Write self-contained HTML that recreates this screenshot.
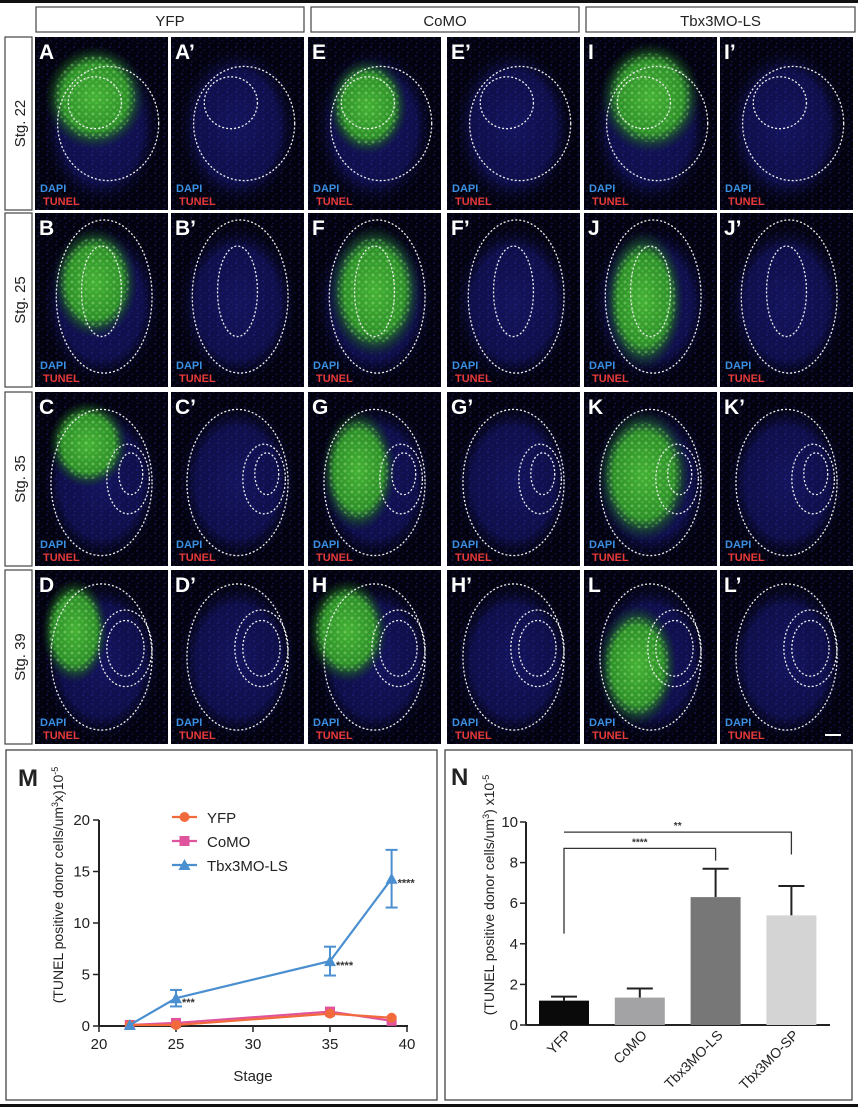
<!DOCTYPE html>
<html><head><meta charset="utf-8"><style>
body{margin:0;background:#fff;width:858px;height:1107px;overflow:hidden;font-family:"Liberation Sans",Arial,sans-serif}
svg{position:absolute;left:0;top:0}
</style></head><body>
<svg id="fig" width="858" height="1107" viewBox="0 0 858 1107">
<defs>
<pattern id="dots" width="9" height="9" patternUnits="userSpaceOnUse">
<circle cx="2" cy="2" r="1" fill="#3b3bd0"/><circle cx="6.5" cy="5" r="0.9" fill="#2c2cb0"/><circle cx="3" cy="7.5" r="0.8" fill="#4545e0"/>
</pattern>
<pattern id="gdots" width="7" height="7" patternUnits="userSpaceOnUse">
<circle cx="2" cy="2" r="1.5" fill="#9bf08a"/><circle cx="5.5" cy="5" r="1.3" fill="#5fd650"/>
</pattern>
<radialGradient id="tis"><stop offset="0" stop-color="#14145c"/><stop offset="0.7" stop-color="#0f0f4a"/><stop offset="1" stop-color="#05051a" stop-opacity="0"/></radialGradient>
<radialGradient id="grn"><stop offset="0" stop-color="#45b035"/><stop offset="0.65" stop-color="#2f8f2a"/><stop offset="1" stop-color="#123a18" stop-opacity="0"/></radialGradient>
</defs>
<rect x="0" y="0" width="858" height="3" fill="#111"/>
<rect x="0" y="1104" width="858" height="3" fill="#111"/>
<g id="panels"></g>
<g id="chartM"></g>
<g id="chartN"></g>
</svg>
<script>
const NS="http://www.w3.org/2000/svg";
function mk(parent,tag,attrs,text){const e=document.createElementNS(NS,tag);for(const k in attrs)e.setAttribute(k,attrs[k]);if(text!==undefined)e.textContent=text;parent.appendChild(e);return e;}

// ---------- microscopy panels ----------
const P=document.getElementById('panels');
const defs=document.querySelector('defs');
const headers=[["YFP",36,304],["CoMO",311,579],["Tbx3MO-LS",586,855]];
headers.forEach(h=>{
  const g=mk(P,'g',{});
  
  
  mk(g,'rect',{x:h[1],y:7,width:h[2]-h[1],height:25,fill:'#fff',stroke:'#444','stroke-width':1.2});
  mk(g,'text',{x:(h[1]+h[2])/2,y:26,'text-anchor':'middle','font-size':15,fill:'#222'},h[0]);
});
const rowsY=[[37,210],[213,387],[392,566],[570,744]];
const stg=["Stg. 22","Stg. 25","Stg. 35","Stg. 39"];
rowsY.forEach((r,i)=>{
  const g=mk(P,'g',{});
  
  
  mk(g,'rect',{x:5,y:r[0],width:27,height:r[1]-r[0],fill:'#fff',stroke:'#444','stroke-width':1.2});
  const cy=(r[0]+r[1])/2;
  mk(g,'text',{x:0,y:0,transform:`translate(25,${cy}) rotate(-90)`,'text-anchor':'middle','font-size':15,fill:'#222'},stg[i]);
});
const colsX=[35,171,308,447,584,720];
const letters=[["A","A’","E","E’","I","I’"],["B","B’","F","F’","J","J’"],["C","C’","G","G’","K","K’"],["D","D’","H","H’","L","L’"]];
const outl=[
 [[.55,.5,.38,.33],[.45,.38,.2,.15]],
 [[.52,.48,.36,.44],[.5,.45,.15,.26]],
 [[.5,.52,.38,.42],[.7,.5,.16,.2],[.72,.47,.09,.12]],
 [[.5,.5,.38,.42],[.68,.45,.2,.22],[.68,.45,.14,.16]]
];
const green=[
 [[.45,.35,.38,.3],[.45,.4,.3,.28],[.5,.35,.38,.32]],
 [[.45,.4,.32,.32],[.5,.45,.35,.38],[.45,.5,.3,.4]],
 [[.4,.3,.3,.25],[.38,.45,.28,.35],[.45,.48,.35,.38]],
 [[.3,.35,.25,.3],[.3,.35,.3,.3],[.4,.55,.3,.35]]
];
let cid=0;
rowsY.forEach((r,ri)=>{
  const h=r[1]-r[0];
  colsX.forEach((x,ci)=>{
    const w=133;
    const cp=mk(defs,'clipPath',{id:'cp'+cid});
    mk(cp,'rect',{x:x,y:r[0],width:w,height:h});
    const g=mk(P,'g',{'clip-path':'url(#cp'+cid+')'});
    cid++;
    
    
    mk(g,'rect',{x:x,y:r[0],width:w,height:h,fill:'#03030f'});
    mk(g,'ellipse',{cx:x+w*.5,cy:r[0]+h*.52,rx:w*.45,ry:h*.46,fill:'url(#tis)'});
    mk(g,'rect',{x:x,y:r[0],width:w,height:h,fill:'url(#dots)',opacity:.3});
    if(ci%2===0){
      const gr=green[ri][ci/2];
      mk(g,'ellipse',{cx:x+w*gr[0],cy:r[0]+h*gr[1],rx:w*gr[2],ry:h*gr[3],fill:'url(#grn)'});
      mk(g,'ellipse',{cx:x+w*gr[0],cy:r[0]+h*gr[1],rx:w*gr[2]*.8,ry:h*gr[3]*.8,fill:'url(#gdots)',opacity:.4});
    }
    outl[ri].forEach(o=>mk(g,'ellipse',{cx:x+w*o[0],cy:r[0]+h*o[1],rx:w*o[2],ry:h*o[3],fill:'none',stroke:'#eee','stroke-width':1.3,'stroke-dasharray':'2 2'}));
    mk(g,'text',{x:x+4,y:r[0]+22,'font-size':21,'font-weight':'bold',fill:'#fff'},letters[ri][ci]);
    mk(g,'text',{x:x+5,y:r[1]-18,'font-size':11,'font-weight':'bold',fill:'#3a8fe0'},'DAPI');
    mk(g,'text',{x:x+8,y:r[1]-5,'font-size':11,'font-weight':'bold',fill:'#e83a3a'},'TUNEL');
  });
});
mk(P,'rect',{x:825,y:734,width:16,height:2,fill:'#fff'});

// ---------- Chart M ----------
const mStages=[22,25,35,39];
const mYFP=[0.1,0.1,1.2,0.8];
const mCoMO=[0.1,0.3,1.4,0.5];
const mTbx=[0.1,2.7,6.3,14.3];
const mTbxErr=[0,0.8,1.4,2.8];
const mTbxSig=["","***","****","****"];
const mXTicks=[20,25,30,35,40];
const mYTicks=[0,5,10,15,20];
const M=document.getElementById('chartM');
const mx=s=>99+(s-20)*308/20, my=v=>1026-v*10.3;
mk(M,'rect',{x:6,y:750,width:431,height:350,fill:'#fff',stroke:'#444','stroke-width':1.3});
mk(M,'text',{x:18,y:786,'font-size':24,'font-weight':'bold',fill:'#222'},'M');
mk(M,'line',{x1:99,y1:my(20),x2:99,y2:1026,stroke:'#222','stroke-width':2});
mk(M,'line',{x1:99,y1:1026,x2:408,y2:1026,stroke:'#222','stroke-width':2});
mYTicks.forEach(t=>{mk(M,'line',{x1:93,y1:my(t),x2:99,y2:my(t),stroke:'#222','stroke-width':1.5});mk(M,'text',{x:90,y:my(t)+5,'text-anchor':'end','font-size':15,fill:'#222'},t);});
mXTicks.forEach(t=>{mk(M,'line',{x1:mx(t),y1:1026,x2:mx(t),y2:1032,stroke:'#222','stroke-width':1.5});mk(M,'text',{x:mx(t),y:1049,'text-anchor':'middle','font-size':15,fill:'#222'},t);});
mk(M,'text',{x:253,y:1081,'text-anchor':'middle','font-size':15,fill:'#222'},'Stage');
const mt=mk(M,'text',{transform:'translate(63,885) rotate(-90)','text-anchor':'middle','font-size':14,fill:'#222'});
mt.innerHTML='(TUNEL positive donor cells/um<tspan dy="-5" font-size="9">3</tspan><tspan dy="5">x)10</tspan><tspan dy="-5" font-size="9">-5</tspan>';
function marker(g,x,y,col,shape){
  if(shape==='c')mk(g,'circle',{cx:x,cy:y,r:5,fill:col});
  else if(shape==='s')mk(g,'rect',{x:x-5,y:y-5,width:10,height:10,fill:col});
  else mk(g,'polygon',{points:`${x},${y-6} ${x-6},${y+5} ${x+6},${y+5}`,fill:col});
}
function series(vals,col,shape,name){
  const g=mk(M,'g',{});
  
  
  mk(g,'polyline',{points:mStages.map((s,i)=>mx(s)+','+my(vals[i])).join(' '),fill:'none',stroke:col,'stroke-width':2.2});
  mStages.forEach((s,i)=>marker(g,mx(s),my(vals[i]),col,shape));
}
series(mCoMO,'#e0549e','s','como');
series(mYFP,'#f26a3c','c','yfp');
series(mTbx,'#4a8fd0','t','tbx3mo-ls');
mStages.forEach((s,i)=>{
  if(!mTbxErr[i])return;
  const x=mx(s);
  mk(M,'line',{x1:x,y1:my(mTbx[i]+mTbxErr[i]),x2:x,y2:my(mTbx[i]-mTbxErr[i]),stroke:'#4a8fd0','stroke-width':2});
  [1,-1].forEach(sg=>mk(M,'line',{x1:x-6,x2:x+6,y1:my(mTbx[i]+sg*mTbxErr[i]),y2:my(mTbx[i]+sg*mTbxErr[i]),stroke:'#4a8fd0','stroke-width':2}));
  mk(M,'text',{x:x+6,y:my(mTbx[i])+8,'font-size':11,'font-weight':'bold',fill:'#333'},mTbxSig[i]);
});
[["YFP",'#f26a3c','c'],["CoMO",'#e0549e','s'],["Tbx3MO-LS",'#4a8fd0','t']].forEach((l,i)=>{
  const y=817+i*24;
  const g=mk(M,'g',{});
  
  
  mk(g,'line',{x1:172,x2:197,y1:y,y2:y,stroke:l[1],'stroke-width':2.2});
  marker(g,184.5,y,l[1],l[2]);
  mk(g,'text',{x:207,y:y+6,'font-size':15,fill:'#222'},l[0]);
});

// ---------- Chart N ----------
const nCats=["YFP","CoMO","Tbx3MO-LS","Tbx3MO-SP"];
const nVals=[1.2,1.35,6.3,5.4];
const nErr=[0.2,0.45,1.4,1.45];
const nColors=["#0a0a0a","#a3a3a6","#777778","#d4d4d4"];
const nYTicks=[0,2,4,6,8,10];
const N=document.getElementById('chartN');
const ny=v=>1025-v*20.3, nx=i=>564+i*75.8;
mk(N,'rect',{x:445,y:750,width:407,height:350,fill:'#fff',stroke:'#444','stroke-width':1.3});
mk(N,'text',{x:451,y:785,'font-size':24,'font-weight':'bold',fill:'#222'},'N');
mk(N,'line',{x1:526,y1:ny(10),x2:526,y2:1025,stroke:'#222','stroke-width':2});
mk(N,'line',{x1:526,y1:1025,x2:830,y2:1025,stroke:'#222','stroke-width':2});
nYTicks.forEach(t=>{mk(N,'line',{x1:520,y1:ny(t),x2:526,y2:ny(t),stroke:'#222','stroke-width':1.5});mk(N,'text',{x:518,y:ny(t)+5,'text-anchor':'end','font-size':15,fill:'#222'},t);});
const nt=mk(N,'text',{transform:'translate(494,895) rotate(-90)','text-anchor':'middle','font-size':14,fill:'#222'});
nt.innerHTML='(TUNEL positive donor cells/um<tspan dy="-5" font-size="9">3</tspan><tspan dy="5">) x10</tspan><tspan dy="-5" font-size="9">-5</tspan>';
nCats.forEach((c,i)=>{
  const x=nx(i);
  const g=mk(N,'g',{});
  
  
  mk(g,'line',{x1:x,x2:x,y1:ny(nVals[i]),y2:ny(nVals[i]+nErr[i]),stroke:'#222','stroke-width':2});
  mk(g,'line',{x1:x-13,x2:x+13,y1:ny(nVals[i]+nErr[i]),y2:ny(nVals[i]+nErr[i]),stroke:'#222','stroke-width':2});
  mk(g,'rect',{x:x-25,y:ny(nVals[i]),width:50,height:1025-ny(nVals[i]),fill:nColors[i]});
  mk(g,'text',{transform:`translate(${x+8},${1036}) rotate(-45)`,'text-anchor':'end','font-size':14,fill:'#222'},c);
});
mk(N,'polyline',{points:`${nx(0)},${ny(4.5)} ${nx(0)},${ny(8.7)} ${nx(2)},${ny(8.7)} ${nx(2)},${ny(8.1)}`,fill:'none',stroke:'#333','stroke-width':1.3});
mk(N,'text',{x:(nx(0)+nx(2))/2,y:ny(8.7)-3,'text-anchor':'middle','font-size':10,'font-weight':'bold',fill:'#333'},'****');
mk(N,'polyline',{points:`${nx(0)},${ny(9.5)} ${nx(3)},${ny(9.5)} ${nx(3)},${ny(8.4)}`,fill:'none',stroke:'#333','stroke-width':1.3});
mk(N,'text',{x:(nx(0)+nx(3))/2,y:ny(9.5)-3,'text-anchor':'middle','font-size':10,'font-weight':'bold',fill:'#333'},'**');
</script>
</body></html>
